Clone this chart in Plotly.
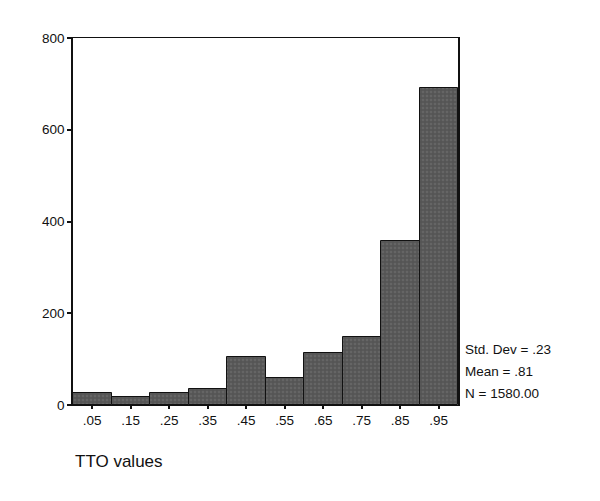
import plotly.graph_objects as go

bin_centers = [0.05, 0.15, 0.25, 0.35, 0.45, 0.55, 0.65, 0.75, 0.85, 0.95]
tick_labels = [".05", ".15", ".25", ".35", ".45", ".55", ".65", ".75", ".85", ".95"]
counts = [26, 17, 26, 35, 104, 59, 114, 149, 358, 692]
y_ticks = [0, 200, 400, 600, 800]
stats_lines = ["Std. Dev = .23", "Mean = .81", "N = 1580.00"]
stats_y = [121, 73, 24]
x_title = "TTO values"

FONT = "Liberation Sans, Arial, Helvetica, sans-serif"

fig = go.Figure()
fig.add_trace(go.Bar(
    x=bin_centers,
    y=counts,
    width=0.1,
    marker=dict(
        color="#555555",
        line=dict(color="#111111", width=1),
        pattern=dict(shape=".", fgcolor="#767676", bgcolor="#555555", size=4, solidity=0.35),
    ),
    showlegend=False,
    hoverinfo="x+y",
))

for txt, yy in zip(stats_lines, stats_y):
    fig.add_annotation(
        text=txt, xref="paper", yref="y", x=1.013, y=yy,
        xanchor="left", yanchor="middle", showarrow=False,
        font=dict(family=FONT, size=13.5, color="#111111"),
    )

fig.add_annotation(
    text=x_title, xref="paper", yref="paper", x=0.0, y=-0.153,
    xanchor="left", yanchor="middle", showarrow=False,
    font=dict(family=FONT, size=17, color="#111111"),
)

fig.update_layout(
    width=600, height=501,
    margin=dict(l=64.5, r=150, t=30, b=104),
    paper_bgcolor="white", plot_bgcolor="white",
    bargap=0,
    font=dict(family=FONT, size=13.5, color="#111111"),
    xaxis=dict(
        range=[0, 1], tickvals=bin_centers, ticktext=tick_labels,
        ticks="outside", ticklen=3, tickwidth=1.5, tickcolor="#111111",
        showline=True, linecolor="#111111", linewidth=1, mirror=True,
        showgrid=False, zeroline=False,
        tickfont=dict(family=FONT, size=13.5, color="#111111"),
    ),
    yaxis=dict(
        range=[0, 800], tickvals=y_ticks,
        ticks="outside", ticklen=4, tickwidth=1.5, tickcolor="#111111",
        showline=True, linecolor="#111111", linewidth=1.5, mirror=True,
        showgrid=False, zeroline=False,
        tickfont=dict(family=FONT, size=13.5, color="#111111"),
    ),
)

fig.write_html("out.html")
